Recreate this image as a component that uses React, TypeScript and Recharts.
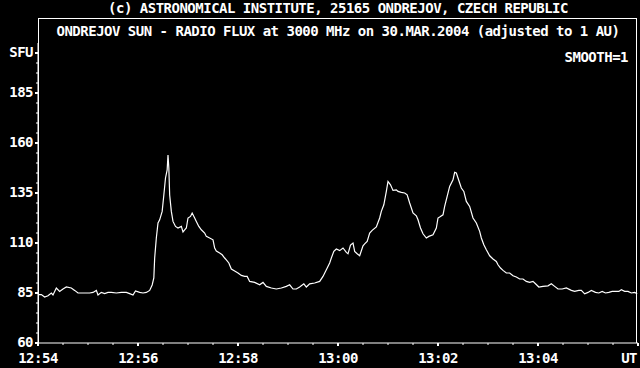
import React from 'react';
import { LineChart, Line, XAxis, YAxis } from 'recharts';

// seconds after 12:54:00 UT
const seconds = [
  0, 4, 8, 12, 16, 18, 22, 26, 30, 34, 40, 44, 48, 52, 56, 62, 66, 70, 72, 76,
  80, 84, 88, 94, 100, 106, 110, 114, 117, 122, 126, 130, 134, 137, 139, 140, 142, 144, 146, 149,
  151, 153, 155, 156, 157, 158, 160, 162, 165, 168, 172, 174, 176, 178, 180, 183, 185, 188, 190, 193,
  196, 200, 202, 206, 210, 212, 214, 218, 221, 224, 226, 229, 232, 236, 240, 244, 248, 251, 254, 260,
  266, 270, 274, 280, 286, 292, 298, 302, 306, 310, 314, 319, 322, 326, 332, 338, 342, 346, 350, 352,
  355, 358, 362, 366, 370, 372, 375, 378, 380, 383, 386, 390, 392, 395, 398, 401, 406, 410, 412, 415,
  418, 420, 423, 426, 430, 432, 436, 440, 443, 446, 450, 454, 456, 459, 462, 466, 469, 474, 478, 480,
  482, 486, 488, 491, 494, 498, 500, 502, 506, 508, 511, 514, 518, 522, 526, 530, 532, 535, 538, 542,
  546, 550, 552, 555, 558, 562, 566, 570, 574, 578, 582, 586, 590, 594, 597, 601, 606, 612, 616, 620,
  624, 629, 634, 640, 644, 649, 652, 656, 660, 664, 669, 673, 677, 681, 685, 689, 693, 697, 700, 704,
  708, 712, 716, 719,
];

// radio flux, SFU
const flux = [
  84.2, 84.2, 83, 83.6, 85, 84, 87.5, 85.8, 87, 88, 87.5, 86.3, 85, 85, 85, 85, 85.3, 86.3, 84, 85.3,
  84.7, 85.3, 85.3, 85, 85.3, 85.3, 84.7, 84, 86, 85.3, 85, 85.3, 86.3, 89, 92.5, 102.5, 112.5, 120, 121.6, 125.8,
  134, 142.5, 146.6, 154, 147.5, 134, 125.8, 120.8, 118.3, 117.5, 118.3, 115.5, 116.6, 117.5, 122.5, 123.3, 125, 122.5, 120.8, 118.3,
  116.6, 115, 113.3, 112.5, 111.6, 107.5, 106, 105, 104.1, 102.5, 101.6, 100, 97, 96, 95, 93.8, 93.3, 93.3, 90.8, 90.3,
  89.1, 90.3, 88.3, 87.5, 87, 87.5, 88.3, 89.1, 87, 87, 88, 89.6, 88, 89.6, 90, 90.8, 93.3, 96.6, 100, 102.5,
  105.8, 107, 106.2, 107.5, 105.3, 104.6, 109, 110, 105.8, 104.6, 103.6, 108.6, 109.6, 110.8, 115, 116.3, 118, 122.5, 125.8, 129.1,
  135.8, 140.8, 139.1, 136.3, 136.6, 135.8, 135.3, 135, 134.1, 130, 125, 123.6, 121.6, 117.5, 114.6, 112.5, 113.3, 114.1, 117.5, 122.5,
  123, 124.1, 128.3, 133.3, 138.3, 141.6, 145.3, 145, 140, 137.5, 135.8, 130.8, 128.3, 122.5, 120, 115.8, 112.5, 109.1, 106.6, 103.6,
  102, 100.8, 99.1, 97.5, 96.3, 95, 95, 93.6, 93, 92, 92, 90.8, 90.3, 90.8, 89.6, 88, 88.3, 88.6, 89.6, 88.3,
  87, 87, 87.5, 86.3, 85.8, 86.3, 86.3, 84.6, 85.3, 86.3, 85.3, 85, 85.8, 85, 85.3, 85.8, 85.8, 85.8, 86.6, 85.8,
  85.8, 85, 85.3, 84.6,
];

const xLabels = ['12:54', '12:56', '12:58', '13:00', '13:02', '13:04', 'UT'];
const yLabels = ['60', '85', '110', '135', '160', '185', 'SFU'];
const yLabelValues = [60, 85, 110, 135, 160, 185, 205];

const data = seconds.map((s, i) => ({ s, flux: flux[i] }));

const xTicks: number[] = [];
for (let s = 0; s <= 720; s += 30) xTicks.push(s);
const yTicks: number[] = [];
for (let v = 60; v <= 205; v += 5) yTicks.push(v);

const FONT = '"DejaVu Sans Mono", "Liberation Mono", monospace';
const WHITE = '#ffffff';
const FS = 14;
const LS = -0.5;

const BottomTick = (props: any) => {
  const { x, y, payload } = props;
  const v = payload.value as number;
  const major = v % 120 === 0;
  const label = major ? xLabels[v / 120] : null;
  return (
    <g>
      <line x1={x} x2={x} y1={y} y2={y + (major ? 3 : 2)} stroke={WHITE} strokeWidth={major ? 2 : 1} />
      {label && (
        <text
          x={v === 720 ? x - 1 : x}
          y={y + 20}
          fill={WHITE}
          fontFamily={FONT}
          fontWeight="bold"
          fontSize={FS}
          letterSpacing={LS}
          textAnchor={v === 720 ? 'end' : 'middle'}
        >
          {label}
        </text>
      )}
    </g>
  );
};

const TopTick = (props: any) => {
  const { x, y, payload } = props;
  const v = payload.value as number;
  if (v === 0 || v === 720) return <g />;
  return <line x1={x} x2={x} y1={y} y2={y + 2} stroke={WHITE} strokeWidth={1} />;
};

const LeftTick = (props: any) => {
  const { x, y, payload } = props;
  const v = payload.value as number;
  const idx = yLabelValues.indexOf(v);
  const major = idx >= 0;
  return (
    <g>
      <line x1={x} x2={x - (major ? 3 : 2)} y1={y} y2={y} stroke={WHITE} strokeWidth={major ? 2 : 1} />
      {major && (
        <text
          x={x - 5}
          y={y + 4}
          fill={WHITE}
          fontFamily={FONT}
          fontWeight="bold"
          fontSize={FS}
          letterSpacing={LS}
          textAnchor="end"
        >
          {yLabels[idx]}
        </text>
      )}
    </g>
  );
};

const textStyle: React.CSSProperties = {
  position: 'absolute',
  color: WHITE,
  fontFamily: FONT,
  fontWeight: 'bold',
  fontSize: FS,
  letterSpacing: LS,
  whiteSpace: 'pre',
  lineHeight: '16px',
};

export default function App() {
  return (
    <div style={{ position: 'absolute', left: 0, top: 0, width: 640, height: 368, background: '#000', overflow: 'hidden' }}>
      <LineChart width={640} height={368} data={data} margin={{ top: 43, right: 2, left: 0, bottom: 0 }}>
        <XAxis
          dataKey="s"
          type="number"
          domain={[0, 720]}
          ticks={xTicks}
          interval={0}
          height={25}
          tickSize={0}
          tickMargin={0}
          tick={<BottomTick />}
          axisLine={{ stroke: WHITE, strokeWidth: 1 }}
        />
        <XAxis
          xAxisId="top"
          orientation="top"
          dataKey="s"
          type="number"
          domain={[0, 720]}
          ticks={xTicks}
          interval={0}
          height={0}
          tickSize={0}
          tickMargin={0}
          tick={<TopTick />}
          axisLine={{ stroke: WHITE, strokeWidth: 1 }}
        />
        <YAxis
          type="number"
          domain={[60, 210]}
          ticks={yTicks}
          interval={0}
          width={38}
          tickSize={0}
          tickMargin={0}
          tick={<LeftTick />}
          axisLine={{ stroke: WHITE, strokeWidth: 1 }}
        />
        <Line
          type="linear"
          dataKey="flux"
          stroke={WHITE}
          strokeWidth={1.2}
          dot={false}
          isAnimationActive={false}
        />
      </LineChart>
      <div style={{ position: 'absolute', left: 38, top: 18, width: 599, height: 325, borderTop: '1px solid #fff', borderLeft: '1px solid #fff', borderRight: '1px solid #fff', boxSizing: 'border-box' }} />
      <div style={{ ...textStyle, left: 0, width: 676, top: 0, textAlign: 'center' }}>
        (c) ASTRONOMICAL INSTITUTE, 25165 ONDREJOV, CZECH REPUBLIC
      </div>
      <div style={{ ...textStyle, left: 38, width: 600, top: 23, textAlign: 'center' }}>
        ONDREJOV SUN - RADIO FLUX at 3000 MHz on 30.MAR.2004 (adjusted to 1 AU)
      </div>
      <div style={{ ...textStyle, right: 12, top: 49 }}>SMOOTH=1</div>
    </div>
  );
}
